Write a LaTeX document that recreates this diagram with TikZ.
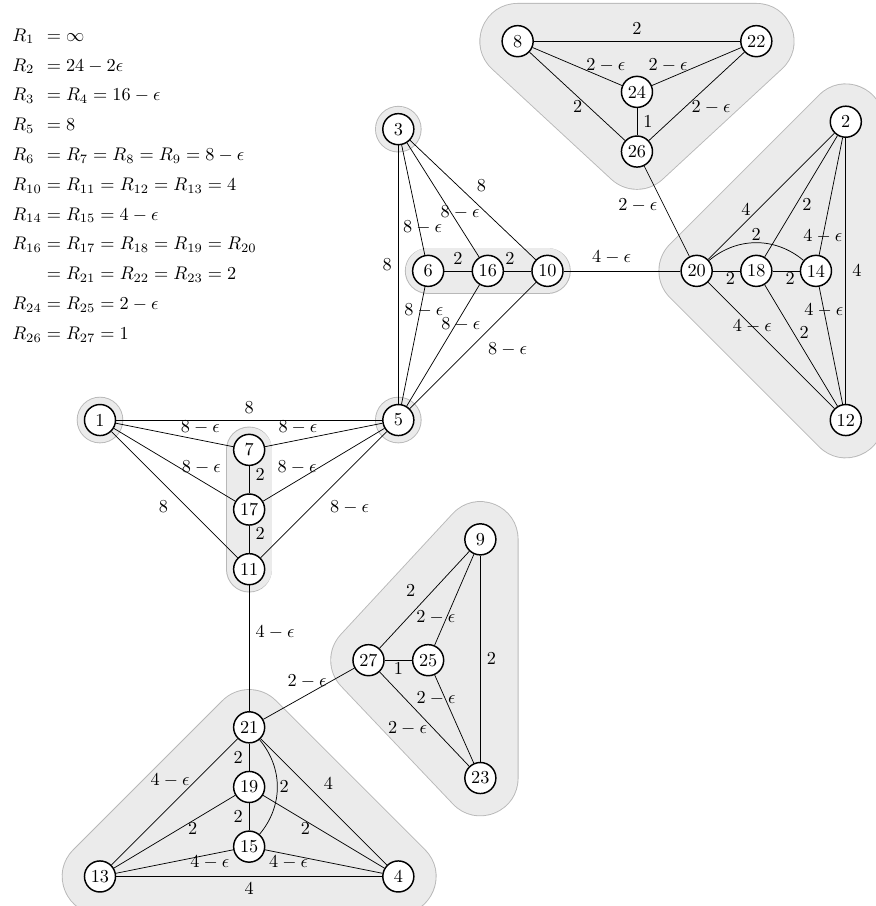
\documentclass[tikz,border=0pt]{standalone}
\usetikzlibrary{backgrounds}

\definecolor{grpfill}{gray}{0.92}
\definecolor{grpedge}{gray}{0.72}

\tikzset{
  vtx/.style={circle, draw, thick, fill=white, minimum size=17pt, inner sep=1pt},
  grp/.style={line join=round, line cap=round},
}

\begin{document}
\begin{tikzpicture}[x=0.574cm, y=0.574cm]

\useasboundingbox (-3.352,-16.29) rectangle (25.98,14.08);

% radii
\node[anchor=north west, inner sep=0pt] (radii) at (-2.95,13.41) {\renewcommand{\arraystretch}{1.36}$\begin{array}{@{}l@{\;}l@{}}
R_1 & = \infty \\
R_2 & = 24 - 2\epsilon \\
R_3 & = R_4 = 16 - \epsilon \\
R_5 & = 8 \\
R_6 & = R_7 = R_8 = R_9 = 8 - \epsilon \\
R_{10} & = R_{11} = R_{12} = R_{13} = 4 \\
R_{14} & = R_{15} = 4 - \epsilon \\
R_{16} & = R_{17} = R_{18} = R_{19} = R_{20} \\
 & = R_{21} = R_{22} = R_{23} = 2 \\
R_{24} & = R_{25} = 2 - \epsilon \\
R_{26} & = R_{27} = 1
\end{array}$};

%% vertices
\node[vtx] (v1) at (0,0) {1};
\node[vtx] (v2) at (25,10) {2};
\node[vtx] (v3) at (10,9.75) {3};
\node[vtx] (v4) at (10,-15.3) {4};
\node[vtx] (v5) at (10,0) {5};
\node[vtx] (v6) at (11,5) {6};
\node[vtx] (v7) at (5,-1) {7};
\node[vtx] (v8) at (14,12.7) {8};
\node[vtx] (v9) at (12.75,-4) {9};
\node[vtx] (v10) at (15,5) {10};
\node[vtx] (v11) at (5,-5) {11};
\node[vtx] (v12) at (25,0) {12};
\node[vtx] (v13) at (0,-15.3) {13};
\node[vtx] (v14) at (24,5) {14};
\node[vtx] (v15) at (5,-14.3) {15};
\node[vtx] (v16) at (13,5) {16};
\node[vtx] (v17) at (5,-3) {17};
\node[vtx] (v18) at (22,5) {18};
\node[vtx] (v19) at (5,-12.3) {19};
\node[vtx] (v20) at (20,5) {20};
\node[vtx] (v21) at (5,-10.3) {21};
\node[vtx] (v22) at (22,12.7) {22};
\node[vtx] (v23) at (12.75,-12) {23};
\node[vtx] (v24) at (18,11) {24};
\node[vtx] (v25) at (11,-8.05) {25};
\node[vtx] (v26) at (18,9) {26};
\node[vtx] (v27) at (9,-8.05) {27};

%% groups
\begin{scope}[on background layer]
\fill[grpedge] (v1.center) circle (12.75pt);
\fill[grpfill] (v1.center) circle (12.25pt);
\fill[grpedge] (v3.center) circle (12.75pt);
\fill[grpfill] (v3.center) circle (12.25pt);
\fill[grpedge] (v5.center) circle (12.75pt);
\fill[grpfill] (v5.center) circle (12.25pt);

\draw[grp, draw=grpedge, line width=25.5pt] (v6.center) -- (v10.center);
\draw[grp, draw=grpfill, line width=24.5pt] (v6.center) -- (v10.center);
\draw[grp, draw=grpedge, line width=25.5pt] (v7.center) -- (v11.center);
\draw[grp, draw=grpfill, line width=24.5pt] (v7.center) -- (v11.center);

\filldraw[grp, draw=grpedge, fill=grpedge, line width=41.8pt] (v8.center) -- (v22.center) -- (v26.center) -- cycle;
\filldraw[grp, draw=grpfill, fill=grpfill, line width=40.8pt] (v8.center) -- (v22.center) -- (v26.center) -- cycle;
\filldraw[grp, draw=grpedge, fill=grpedge, line width=41.8pt] (v2.center) -- (v20.center) -- (v12.center) -- cycle;
\filldraw[grp, draw=grpfill, fill=grpfill, line width=40.8pt] (v2.center) -- (v20.center) -- (v12.center) -- cycle;
\filldraw[grp, draw=grpedge, fill=grpedge, line width=41.8pt] (v9.center) -- (v27.center) -- (v23.center) -- cycle;
\filldraw[grp, draw=grpfill, fill=grpfill, line width=40.8pt] (v9.center) -- (v27.center) -- (v23.center) -- cycle;
\filldraw[grp, draw=grpedge, fill=grpedge, line width=41.8pt] (v21.center) -- (v13.center) -- (v4.center) -- cycle;
\filldraw[grp, draw=grpfill, fill=grpfill, line width=40.8pt] (v21.center) -- (v13.center) -- (v4.center) -- cycle;
\end{scope}

%% top group
\draw (v8) -- node[above] {$2$} (v22);
\draw (v8) -- node[pos=0.82, above] {$2-\epsilon$} (v24);
\draw (v22) -- node[pos=0.82, above] {$2-\epsilon$} (v24);
\draw (v8) -- node[pos=0.62, left] {$2$} (v26);
\draw (v22) -- node[pos=0.62, right] {$2-\epsilon$} (v26);
\draw (v24) -- node[right] {$1$} (v26);
\draw (v26) -- node[pos=0.43, left] {$2-\epsilon$} (v20);

%% right group
\draw (v20) -- node[pos=0.3, above] {$4$} (v2);
\draw (v18) -- node[pos=0.43, right] {$2$} (v2);
\draw (v14) -- node[pos=0.16] {$4-\epsilon$} (v2);
\draw (v20) to[bend left=40] node[above, inner sep=1pt] {$2$} (v14);
\draw (v20) -- node[pos=0.65, below, inner sep=1pt] {$2$} (v18);
\draw (v18) -- node[pos=0.65, below, inner sep=1pt] {$2$} (v14);
\draw (v20) -- node[pos=0.35] {$4-\epsilon$} (v12);
\draw (v18) -- node[pos=0.39, right] {$2$} (v12);
\draw (v14) -- node[pos=0.2] {$4-\epsilon$} (v12);
\draw (v2) -- node[right] {$4$} (v12);

%% middle group
\draw (v3) -- node[pos=0.48, above right] {$8$} (v10);
\draw (v3) -- node[pos=0.61, xshift=5pt] {$8-\epsilon$} (v16);
\draw (v3) -- node[pos=0.75, xshift=2pt] {$8-\epsilon$} (v6);
\draw (v3) -- node[pos=0.46, left] {$8$} (v5);
\draw (v6) -- node[above] {$2$} (v16);
\draw (v16) -- node[pos=0.22, above] {$2$} (v10);
\draw (v6) -- node[pos=0.2, xshift=2pt] {$8-\epsilon$} (v5);
\draw (v16) -- node[pos=0.33, xshift=3pt] {$8-\epsilon$} (v5);
\draw (v10) -- node[pos=0.43, below right] {$8-\epsilon$} (v5);
\draw (v10) -- node[pos=0.41, above] {$4-\epsilon$} (v20);

%% left group
\draw (v1) -- node[above] {$8$} (v5);
\draw (v1) -- node[pos=0.72, above] {$8-\epsilon$} (v7);
\draw (v5) -- node[pos=0.72, above] {$8-\epsilon$} (v7);
\draw (v1) -- node[pos=0.72, above] {$8-\epsilon$} (v17);
\draw (v5) -- node[pos=0.72, above] {$8-\epsilon$} (v17);
\draw (v1) -- node[below left] {$8$} (v11);
\draw (v5) -- node[below right] {$8-\epsilon$} (v11);
\draw (v7) -- node[pos=0.32, right] {$2$} (v17);
\draw (v17) -- node[pos=0.28, right] {$2$} (v11);
\draw (v11) -- node[pos=0.37, right] {$4-\epsilon$} (v21);

%% bottom group
\draw (v21) -- node[left] {$2$} (v19);
\draw (v19) -- node[left] {$2$} (v15);
\draw (v21) to[bend left=40] node[right, inner sep=1pt] {$2$} (v15);
\draw (v21) -- node[pos=0.45, above right] {$4$} (v4);
\draw (v21) -- node[pos=0.33, left] {$4-\epsilon$} (v13);
\draw (v19) -- node[pos=0.35, below, inner sep=1pt] {$2$} (v13);
\draw (v19) -- node[pos=0.35, below, inner sep=1pt] {$2$} (v4);
\draw (v15) -- node[pos=0.2, below, inner sep=0.5pt] {$4-\epsilon$} (v13);
\draw (v15) -- node[pos=0.2, below, inner sep=0.5pt] {$4-\epsilon$} (v4);
\draw (v13) -- node[below] {$4$} (v4);
\draw (v27) -- node[pos=0.52, above] {$2-\epsilon$} (v21);

%% bottom right group
\draw (v27) -- node[pos=0.47, above left] {$2$} (v9);
\draw (v25) -- node[pos=0.31, xshift=-6pt] {$2-\epsilon$} (v9);
\draw (v27) -- node[below, inner sep=1pt] {$1$} (v25);
\draw (v27) -- node[pos=0.6, left] {$2-\epsilon$} (v23);
\draw (v25) -- node[pos=0.27, xshift=-5pt] {$2-\epsilon$} (v23);
\draw (v9) -- node[right] {$2$} (v23);

\end{tikzpicture}
\end{document}
